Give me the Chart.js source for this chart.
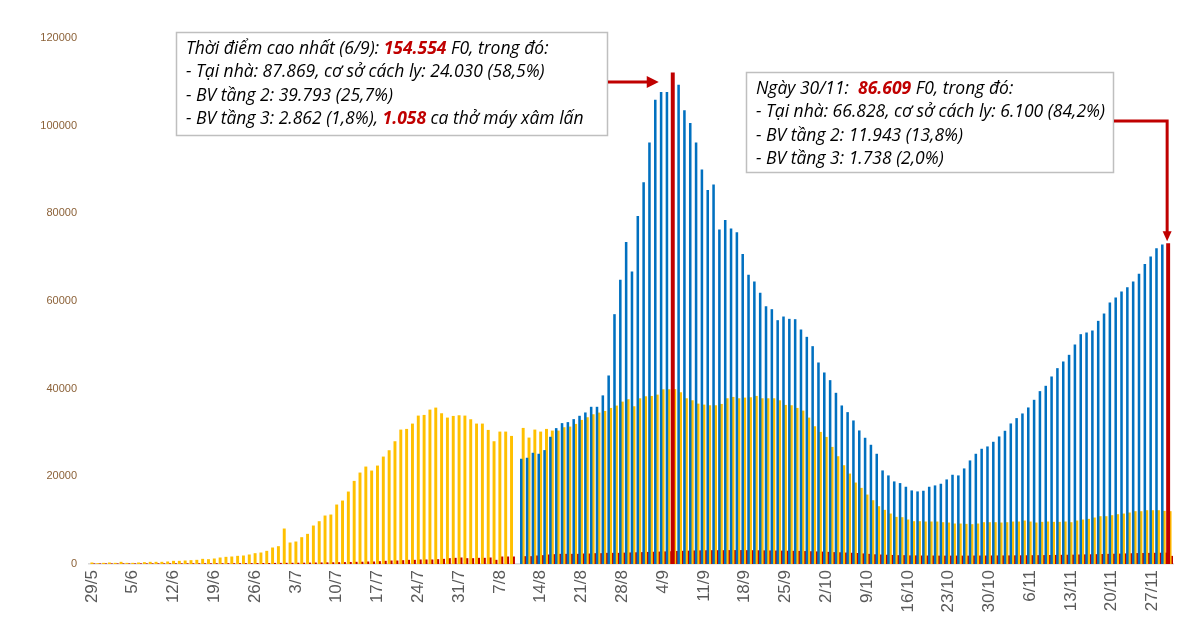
<!DOCTYPE html>
<html>
<head>
<meta charset="utf-8">
<script src="https://cdn.jsdelivr.net/npm/chart.js@4/dist/chart.umd.min.js"></script>
<style>
  html, body { margin: 0; padding: 0; background: #ffffff; }
  #wrap { width: 1198px; height: 624px; position: relative; }
</style>
</head>
<body>
<div id="wrap"><canvas id="c" width="1198" height="624"></canvas></div>
<script>
// ---- categories: every day from 29/5 to 30/11 ----
const monthLengths = [[5, 29, 31], [6, 1, 30], [7, 1, 31], [8, 1, 31], [9, 1, 30], [10, 1, 31], [11, 1, 30]];
const categories = [];
monthLengths.forEach(([m, from, to]) => { for (let d = from; d <= to; d++) categories.push(d + '/' + m); });

// tick labels shown on the x axis (weekly)
const tickLabels = ['29/5','5/6','12/6','19/6','26/6','3/7','10/7','17/7','24/7','31/7','7/8','14/8','21/8','28/8','4/9','11/9','18/9','25/9','2/10','9/10','16/10','23/10','30/10','6/11','13/11','20/11','27/11'];

const yTicks = [0, 20000, 40000, 60000, 80000, 100000, 120000];

// ---- series: Tại nhà + cơ sở cách ly (blue) ----
const homeIsolation = [
  null,null,null,null,null,null,null,null,null,null,
  null,null,null,null,null,null,null,null,null,null,
  null,null,null,null,null,null,null,null,null,null,
  null,null,null,null,null,null,null,null,null,null,
  null,null,null,null,null,null,null,null,null,null,
  null,null,null,null,null,null,null,null,null,null,
  null,null,null,null,null,null,null,null,null,null,
  null,null,null,null,
  23940,24168,25308,25080,25916,28956,30932,32072,32300,32984,33744,34504,35796,35796,
  38400,42940,56924,64752,73416,66652,79344,87020,96064,105868,107616,107616,111899,109288,103436,100548,96064,89908,85272,86488,
  76228,78432,76456,75620,70680,65892,64372,61788,58748,58064,55556,56392,55860,55784,53428,51756,49628,45904,43624,41876,
  38988,36100,34580,
  32680,30400,28728,27132,25080,21280,20140,18772,18392,17556,16720,16492,16644,17556,17860,18240,19228,20292,20140,21736,
  23560,25080,26220,26752,27816,29032,30324,31996,33212,34276,35644,37392,39368,40584,42712,44612,46132,47652,50008,52364,
  52744,53200,55404,57076,59584,60724,62092,63080,64372,66120,68400,70072,71972,72808,72928
];

// ---- series: BV tầng 2 (yellow) ----
const level2 = [
  228,76,152,228,152,380,152,152,228,304,380,380,380,456,608,608,684,760,836,1064,
  988,1140,1368,1520,1596,1748,1824,2052,2356,2508,2888,3648,3952,7980,4788,5016,6004,6764,8664,9652,
  10944,11172,13452,14364,16416,18848,20748,22116,
  21204,22344,24396,25840,27892,30552,30704,31920,33744,33896,35112,35568,34276,33288,33668,33820,33744,32908,31920,31920,
  30476,27892,30096,30096,29108,
  null,
  30932,28728,30552,30096,30704,30324,30324,31084,31236,31844,32756,33364,34048,34428,
  34800,35492,36024,36936,37468,35872,37696,38152,38228,38532,39748,39748,39793,39064,37696,37240,36480,36252,36100,36100,
  36404,37696,38000,37696,37848,37924,38228,37696,37696,37696,37240,36176,36100,35492,34884,33288,31312,30020,28880,26600,
  24472,22420,20520,
  18468,17252,15732,14440,13072,12236,11400,10640,10564,10032,9652,9652,9576,9576,9576,9424,9348,9120,9120,9044,
  8968,9120,9424,9424,9424,9348,9424,9576,9576,9804,9576,9348,9500,9576,9500,9500,9576,9424,9804,10032,
  10184,10488,10792,10792,11020,11248,11400,11628,11932,11932,12160,12160,12160,12008,11943
];

// ---- series: BV tầng 3 (red) ----
const level3 = [
  20,20,20,20,20,25,25,25,30,30,30,35,35,40,40,45,45,50,50,55,
  60,60,65,70,75,80,85,90,100,110,120,130,140,150,160,170,180,200,220,240,
  260,280,300,320,350,380,400,456,
  456,532,608,684,684,760,836,836,912,912,912,988,1064,1216,1292,1368,1216,1216,1292,1292,
  1368,836,1596,1596,1596,
  null,
  1672,1672,1824,1900,2052,2128,2204,2204,2204,2204,2280,2280,2356,2356,
  2432,2432,2432,2480,2520,2560,2600,2640,2680,2720,2760,2800,2862,2900,2940,2980,3000,3020,3040,3040,
  3040,3060,3060,3060,3040,3040,3020,3000,2980,2960,2940,2920,2900,2880,2840,2800,2760,2720,2660,2600,
  2560,2500,2450,
  2400,2300,2200,2100,2050,2000,1950,1900,1900,1850,1850,1820,1820,1820,1800,1800,1800,1800,1800,1800,
  1820,1820,1820,1830,1840,1840,1850,1860,1870,1880,1890,1900,1920,1940,1960,1980,2000,2020,2050,2080,
  2100,2130,2160,2200,2230,2260,2300,2340,2380,2400,2420,2440,2460,2480,1738
];

const highlightDays = ['6/9', '30/11'];

const BLUE = '#0070c0', YELLOW = '#ffc000', RED = '#c00000';

const annotations = {
  peak: {
    box: { x: 176, y: 32, w: 431, h: 103 },
    lines: [
      [['Thời điểm cao nhất (6/9): ', false], ['154.554', true], [' F0, trong đó:', false]],
      [['- Tại nhà: 87.869, cơ sở cách ly: 24.030 (58,5%)', false]],
      [['- BV tầng 2: 39.793 (25,7%)', false]],
      [['- BV tầng 3: 2.862 (1,8%), ', false], ['1.058', true], [' ca thở máy xâm lấn', false]]
    ]
  },
  last: {
    box: { x: 746, y: 72, w: 367, h: 100 },
    lines: [
      [['Ngày 30/11:  ', false], ['86.609', true], [' F0, trong đó:', false]],
      [['- Tại nhà: 66.828, cơ sở cách ly: 6.100 (84,2%)', false]],
      [['- BV tầng 2: 11.943 (13,8%)', false]],
      [['- BV tầng 3: 1.738 (2,0%)', false]]
    ]
  }
};
// widths (px) of the first two lines of the first box in the source, used to size the font
const referenceLineWidths = [377, 357];

const FONT_FAMILY = '"Open Sans", Lato, sans-serif';
let fontSize = 16;

function fontFor(bold, size) { return (bold ? 'italic bold ' : 'italic ') + size + 'px ' + FONT_FAMILY; }

function lineWidth(ctx, runs, size) {
  let w = 0;
  runs.forEach(([t, bold]) => { ctx.font = fontFor(bold, size); w += ctx.measureText(t).width; });
  return w;
}

function drawBox(ctx, a) {
  const b = a.box;
  ctx.save();
  ctx.fillStyle = '#ffffff';
  ctx.fillRect(b.x, b.y, b.w, b.h);
  ctx.strokeStyle = '#bfbfbf';
  ctx.lineWidth = 1.5;
  ctx.strokeRect(b.x + 0.5, b.y + 0.5, b.w, b.h);
  ctx.textBaseline = 'middle';
  a.lines.forEach((runs, i) => {
    let x = b.x + 10;
    const y = b.y + 17 + i * 23.3;
    runs.forEach(([t, bold]) => {
      ctx.font = fontFor(bold, fontSize);
      ctx.fillStyle = bold ? RED : '#000000';
      ctx.fillText(t, x, y);
      x += ctx.measureText(t).width;
    });
  });
  ctx.restore();
}

function arrowHead(ctx, tipX, tipY, dir, len, half) {
  ctx.beginPath();
  if (dir === 'right') {
    ctx.moveTo(tipX, tipY); ctx.lineTo(tipX - len, tipY - half); ctx.lineTo(tipX - len, tipY + half);
  } else {
    ctx.moveTo(tipX, tipY); ctx.lineTo(tipX - half, tipY - len); ctx.lineTo(tipX + half, tipY - len);
  }
  ctx.closePath();
  ctx.fill();
}

const annotationPlugin = {
  id: 'annot',
  afterDatasetsDraw(chart) {
    const ctx = chart.ctx;
    const w16 = lineWidth(ctx, annotations.peak.lines[0], 16) + lineWidth(ctx, annotations.peak.lines[1], 16);
    fontSize = Math.round(16 * (referenceLineWidths[0] + referenceLineWidths[1]) / w16 * 0.985 * 10) / 10;
    const meta = chart.getDatasetMeta(0);
    const i1 = categories.indexOf(highlightDays[0]);
    const i2 = categories.indexOf(highlightDays[1]);
    const e1 = meta.data[i1], e2 = meta.data[i2];
    drawBox(ctx, annotations.peak);
    drawBox(ctx, annotations.last);
    ctx.save();
    ctx.strokeStyle = RED; ctx.fillStyle = RED; ctx.lineWidth = 3;
    // arrow 1
    const b1 = annotations.peak.box;
    const ay = 82;
    const tip1 = e1.x - 14;
    ctx.beginPath(); ctx.moveTo(b1.x + b1.w + 1, ay); ctx.lineTo(tip1 - 10, ay); ctx.stroke();
    arrowHead(ctx, tip1, ay, 'right', 12, 6);
    // arrow 2
    const b2 = annotations.last.box;
    const by = 121;
    const tip2y = e2.y - 3;
    ctx.beginPath(); ctx.moveTo(b2.x + b2.w + 1, by); ctx.lineTo(e2.x - 1, by); ctx.lineTo(e2.x - 1, tip2y - 8); ctx.stroke();
    arrowHead(ctx, e2.x - 1, tip2y, 'down', 10, 4.5);
    ctx.restore();
  }
};

const barCommon = { categoryPercentage: 1.0, barPercentage: 1.0, borderWidth: 0 };

const chart = new Chart(document.getElementById('c'), {
  type: 'bar',
  data: {
    labels: categories,
    datasets: [
      Object.assign({
        label: 'Tại nhà + cơ sở cách ly',
        data: homeIsolation,
        backgroundColor: (c) => highlightDays.includes(categories[c.dataIndex]) ? RED : BLUE,
        inflateAmount: (c) => highlightDays.includes(categories[c.dataIndex]) ? 1.0 : 0.3
      }, barCommon),
      Object.assign({
        label: 'BV tầng 2',
        data: level2,
        backgroundColor: YELLOW,
        inflateAmount: 0.5
      }, barCommon),
      Object.assign({
        label: 'BV tầng 3',
        data: level3,
        backgroundColor: RED,
        inflateAmount: 0.5
      }, barCommon)
    ]
  },
  options: {
    responsive: false,
    animation: false,
    devicePixelRatio: 1,
    layout: { padding: { left: 0, right: 25, top: 38, bottom: 0 } },
    plugins: { legend: { display: false }, tooltip: { enabled: false } },
    scales: {
      x: {
        offset: true,
        grid: { display: false, drawTicks: false },
        border: { display: true, color: '#d9d9d9', width: 1.5 },
        ticks: {
          autoSkip: false,
          maxRotation: 90,
          minRotation: 90,
          padding: 6,
          color: '#595959',
          font: { family: '"Liberation Sans", Arial, sans-serif', size: 17 },
          callback: function (v, i) { const l = categories[i]; return tickLabels.includes(l) ? l : ''; }
        },
        afterFit: (s) => { s.height = 60; }
      },
      y: {
        min: 0,
        max: 120000,
        grid: { display: false, drawTicks: false },
        border: { display: false },
        afterBuildTicks: (s) => { s.ticks = yTicks.map(v => ({ value: v })); },
        ticks: {
          padding: 12,
          color: '#8c6239',
          font: { family: '"Liberation Sans", Arial, sans-serif', size: 11 },
          callback: (v) => String(v)
        },
        afterFit: (s) => { s.width = 89; }
      }
    }
  },
  plugins: [annotationPlugin]
});
</script>
</body>
</html>
